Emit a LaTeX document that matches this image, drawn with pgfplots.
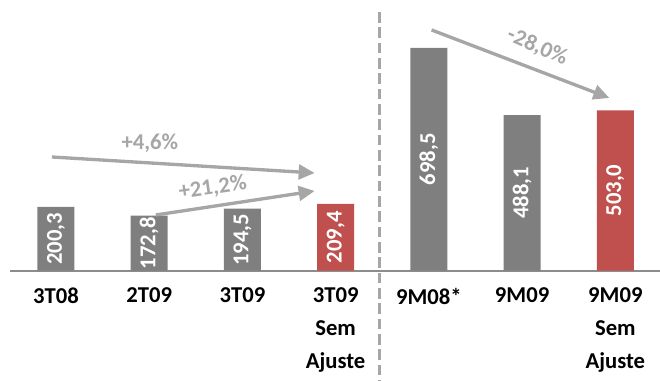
\documentclass[border=0pt]{standalone}
\usepackage{pgfplots}
\pgfplotsset{compat=1.18}
\usepackage{pgfplotstable}
\usepackage{fontspec}
\setmainfont{Carlito}
\usetikzlibrary{arrows.meta}
\definecolor{barGray}{HTML}{7F7F7F}
\definecolor{barRed}{HTML}{C0504D}
\definecolor{arrGray}{HTML}{A6A6A6}
\definecolor{axGray}{HTML}{8C8C8C}
\pgfplotstableread{
x v
0 200.3
1 172.8
2 194.5
4 698.5
5 488.1
}\grayd
\pgfplotstableread{
x v
3 209.4
6 503.0
}\redd
\begin{document}
\begin{tikzpicture}
\begin{axis}[
  scale only axis, width=487.5pt, height=203pt,
  xmin=-0.493, xmax=6.479, ymin=0, ymax=849,
  axis x line=bottom, axis y line=none,
  x axis line style={-, draw=axGray, line width=1.5pt},
  xtick={0,...,6}, major tick length=0pt, ytick=\empty,
  xticklabels={3T08,2T09,3T09,{3T09\\Sem\\Ajuste},9M08*,9M09,{9M09\\Sem\\Ajuste}},
  xticklabel style={font=\fontsize{17}{24.5}\selectfont\bfseries, align=center, anchor=north, text=black, yshift=-9.5pt},
  /pgf/number format/assume math mode=true,
  clip=false,
]
\addplot[ybar, bar width=27.75pt, bar shift=0pt, fill=barGray, draw=none] table[x=x,y=v]{\grayd};
\addplot[ybar, bar width=27.75pt, bar shift=0pt, fill=barRed, draw=none] table[x=x,y=v]{\redd};
\addplot[draw=none, mark=none, point meta=explicit,
  nodes near coords={\pgfmathprintnumber[fixed,fixed zerofill,precision=1,use comma]{\pgfplotspointmeta}},
  every node near coord/.append style={anchor=center, rotate=90, text=white, font=\fontsize{17}{20}\selectfont\bfseries, inner sep=0pt}]
  table[x=x, y expr=\thisrow{v}/2, meta=v]{\grayd};
\addplot[draw=none, mark=none, point meta=explicit,
  nodes near coords={\pgfmathprintnumber[fixed,fixed zerofill,precision=1,use comma]{\pgfplotspointmeta}},
  every node near coord/.append style={anchor=center, rotate=90, text=white, font=\fontsize{17}{20}\selectfont\bfseries, inner sep=0pt}]
  table[x=x, y expr=\thisrow{v}/2, meta=v]{\redd};
% separator
\draw[arrGray, line width=2.2pt, dash pattern=on 8pt off 3.5pt] (axis cs:3.47,811) -- (axis cs:3.47,-345);
% arrows
\draw[arrGray, line width=2.5pt, -{Triangle[length=12pt,width=11pt]}] (axis cs:-0.043,356.6) -- (axis cs:2.775,306.4);
\draw[arrGray, line width=2.5pt, -{Triangle[length=12pt,width=11pt]}] (axis cs:1.071,174.7) -- (axis cs:2.775,250);
\draw[arrGray, line width=2.5pt, -{Triangle[length=12pt,width=11pt]}] (axis cs:4.029,755) -- (axis cs:5.936,541.7);
\node[text=arrGray, font=\fontsize{17}{20}\selectfont\bfseries] at (axis cs:1.007,400.6) {+4,6\%};
\node[text=arrGray, font=\fontsize{17}{20}\selectfont\bfseries, rotate=8] at (axis cs:1.682,259.4) {+21,2\%};
\node[text=arrGray, font=\fontsize{17}{20}\selectfont\bfseries, rotate=-24] at (axis cs:5.164,701.7) {-28,0\%};
\end{axis}
\pgfresetboundingbox
\path (-7.5pt,-82.5pt) rectangle (487.5pt,203pt);
\end{tikzpicture}
\end{document}
